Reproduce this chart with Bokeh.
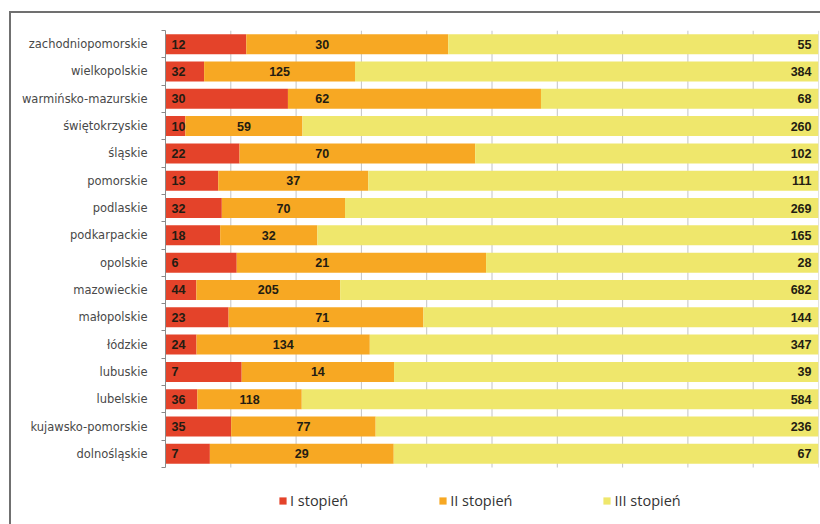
from bokeh.plotting import figure
from bokeh.models import (ColumnDataSource, Range1d, FixedTicker, Legend, LegendItem)
from bokeh.core.properties import value
from bokeh.embed import file_html
from bokeh.resources import INLINE

regions = ["zachodniopomorskie", "wielkopolskie", "warmińsko-mazurskie", "świętokrzyskie",
           "śląskie", "pomorskie", "podlaskie", "podkarpackie", "opolskie", "mazowieckie",
           "małopolskie", "łódzkie", "lubuskie", "lubelskie", "kujawsko-pomorskie", "dolnośląskie"]
stopien_1 = [12, 32, 30, 10, 22, 13, 32, 18, 6, 44, 23, 24, 7, 36, 35, 7]
stopien_2 = [30, 125, 62, 59, 70, 37, 70, 32, 21, 205, 71, 134, 14, 118, 77, 29]
stopien_3 = [55, 384, 68, 260, 102, 111, 269, 165, 28, 682, 144, 347, 39, 584, 236, 67]
series_names = ["I stopień", "II stopień", "III stopień"]
grid_pct = [10, 20, 30, 40, 50, 60, 70, 80, 90, 100]
colors = ["#E4432A", "#F7A823", "#EFE76C"]

n = len(regions)
ypos = [float(n - 1 - i) for i in range(n)]
bounds = [i - 0.5 for i in range(n + 1)]
totals = [a + b + c for a, b, c in zip(stopien_1, stopien_2, stopien_3)]
p1 = [a / t * 100 for a, t in zip(stopien_1, totals)]
p2 = [b / t * 100 for b, t in zip(stopien_2, totals)]
p3 = [c / t * 100 for c, t in zip(stopien_3, totals)]
end2 = [a + b for a, b in zip(p1, p2)]
end3 = [a + b for a, b in zip(end2, p3)]
mid2 = [min((a + b) / 2, 24) for a, b in zip(p1, end2)]

src = ColumnDataSource(dict(
    y=ypos, zero=[0.0] * n, e1=p1, e2=end2, e3=end3,
    l1=[str(v) for v in stopien_1], l2=[str(v) for v in stopien_2], l3=[str(v) for v in stopien_3],
    xm=mid2, x100=[100.0] * n,
))

# bars occupy 437 px for n rows; leave 55 px below them (inside the frame) for the legend
px_per_row = 437 / n
y_low = -0.5 - 55 / px_per_row

p = figure(width=811, height=513, output_backend="svg", toolbar_location=None,
           y_range=Range1d(y_low, n - 0.5), x_range=Range1d(0, 100),
           min_border_left=154, min_border_right=4, min_border_top=17, min_border_bottom=4,
           margin=(11, 0, 0, 9),
           styles={"border-left": "2px solid #707070", "border-top": "2px solid #707070"})
p.outline_line_color = None
p.xaxis.visible = False
p.xgrid.grid_line_color = None
p.ygrid.grid_line_color = None

p.segment(x0=grid_pct, x1=grid_pct, y0=[-0.5] * len(grid_pct), y1=[n - 0.5] * len(grid_pct),
          line_color="#c4c4c4", line_width=1, level="underlay")

r1 = p.hbar(y="y", left="zero", right="e1", height=0.73, color=colors[0], line_color=None, source=src)
r2 = p.hbar(y="y", left="e1", right="e2", height=0.73, color=colors[1], line_color=None, source=src)
r3 = p.hbar(y="y", left="e2", right="e3", height=0.73, color=colors[2], line_color=None, source=src)

ya = p.yaxis[0]
ya.ticker = FixedTicker(ticks=ypos, minor_ticks=bounds)
ya.bounds = (-0.5, n - 0.5)
ya.major_label_overrides = {y: name for y, name in zip(ypos, regions)}
ya.axis_line_color = "#8a8a8a"
ya.major_tick_line_color = None
ya.minor_tick_line_color = "#8a8a8a"
ya.minor_tick_in = 0
ya.minor_tick_out = 4
ya.major_label_text_font = "DejaVu Sans"
ya.major_label_text_font_size = "11.5px"
ya.major_label_text_color = "#484848"
ya.major_label_standoff = 12

lbl = dict(source=src, y="y", text_font=value("Liberation Sans"), text_font_style="bold",
           text_font_size="12.5px", text_color="#231c12", text_baseline="middle")
p.text(x="zero", text="l1", text_align="left", x_offset=6, **lbl)
p.text(x="xm", text="l2", text_align="center", **lbl)
p.text(x="x100", text="l3", text_align="right", x_offset=-7, **lbl)

legend = Legend(items=[LegendItem(label=nm, renderers=[r]) for nm, r in zip(series_names, [r1, r2, r3])],
                orientation="horizontal", location=(113, 12),
                label_text_font="Open Sans", label_text_font_size="14.5px",
                label_text_color="#333333", glyph_width=9, glyph_height=9,
                label_standoff=3, spacing=90, border_line_color=None,
                background_fill_alpha=0, padding=0, margin=0)
p.add_layout(legend)

open("out.html", "w").write(file_html(p, INLINE))
